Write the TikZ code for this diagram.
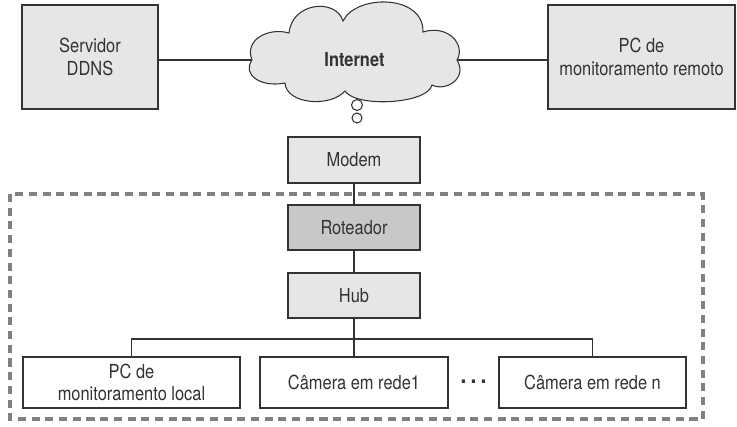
\documentclass[tikz,border=0pt]{standalone}
\usepackage{fontspec}
\setmainfont[FakeStretch=0.85]{TeX Gyre Heros}
\usepackage{tikz}

\definecolor{boxgray}{HTML}{E6E6E6}
\definecolor{routergray}{HTML}{C8C8C8}
\definecolor{ink}{HTML}{333333}
\definecolor{fence}{HTML}{808080}

\tikzset{
  unit/.style={draw=ink, line width=0.6pt, fill=boxgray, text=ink, align=center,
    inner sep=0pt, font=\fontsize{11}{13}\selectfont},
  wire/.style={draw=ink, line width=0.6pt},
}

\begin{document}
\begin{tikzpicture}[x=0.02cm, y=-0.02cm]
      \useasboundingbox (0, 0) rectangle (737, 426);
      % top row
      \node[unit, minimum width=136*0.02cm, minimum height=104*0.02cm] (ddns) at (90, 57) {Servidor\\DDNS};
      \node[unit, minimum width=187*0.02cm, minimum height=104*0.02cm] (remote) at (641.5, 57) {PC de\\monitoramento remoto};
      \draw[unit] (252, 60) .. controls (244, 40) and (268, 27) .. (289, 33)
        .. controls (292, 2) and (336, -2) .. (343, 21)
        .. controls (356, -6) and (424, -6) .. (423, 32)
        .. controls (448, 24) and (466, 45) .. (457, 60)
        .. controls (468, 78) and (446, 92) .. (432, 85)
        .. controls (428, 104) and (356, 108) .. (345, 91)
        .. controls (330, 108) and (286, 104) .. (285, 83)
        .. controls (260, 88) and (242, 74) .. (252, 60) -- cycle;
      \node[inner sep=0pt, minimum width=205*0.02cm, minimum height=80*0.02cm, text=ink,
        font=\bfseries\fontsize{11}{13}\selectfont] (net) at (354.5, 60) {Internet};
      \node[unit, circle, fill=white, minimum size=11*0.02cm] (bub1) at (357, 105) {};
      \node[unit, circle, fill=white, minimum size=10*0.02cm] (bub2) at (357, 118) {};
      \draw[wire] (net.west) -- (net.west -| ddns.east);
      \draw[wire] (net.east) -- (net.east -| remote.west);
      % local network
      \draw[fence, line width=2.2pt, dash pattern=on 4.6pt off 3.2pt] (10, 194) rectangle (703, 419);
      \node[unit, minimum width=132*0.02cm, minimum height=46*0.02cm] (modem) at (354, 160) {Modem};
      \node[unit, fill=routergray, minimum width=132*0.02cm, minimum height=45*0.02cm] (router) at (354, 227.5) {Roteador};
      \node[unit, minimum width=132*0.02cm, minimum height=45*0.02cm] (hub) at (354, 295.5) {Hub};
      \draw[wire] (modem) -- (router);
      \draw[wire] (router) -- (hub);
      \node[unit, fill=white, minimum width=217*0.02cm, minimum height=51*0.02cm] (pclocal) at (131.5, 382.5) {PC de\\monitoramento local};
      \node[unit, fill=white, minimum width=188*0.02cm, minimum height=51*0.02cm] (cam1) at (354, 382.5) {Câmera em rede1};
      \node[unit, fill=white, minimum width=187*0.02cm, minimum height=51*0.02cm] (camn) at (592.5, 382.5) {Câmera em rede n};
      \node[text=ink, inner sep=0pt] (dots) at (473.5, 382) {\textbf{\fontsize{14}{14}\selectfont .\,.\,.}};
      \coordinate (bus) at (354, 339);
      \draw[wire] (hub) -- (cam1);
      \draw[wire] (pclocal.north) |- (bus) -| (camn.north);
\end{tikzpicture}
\end{document}
